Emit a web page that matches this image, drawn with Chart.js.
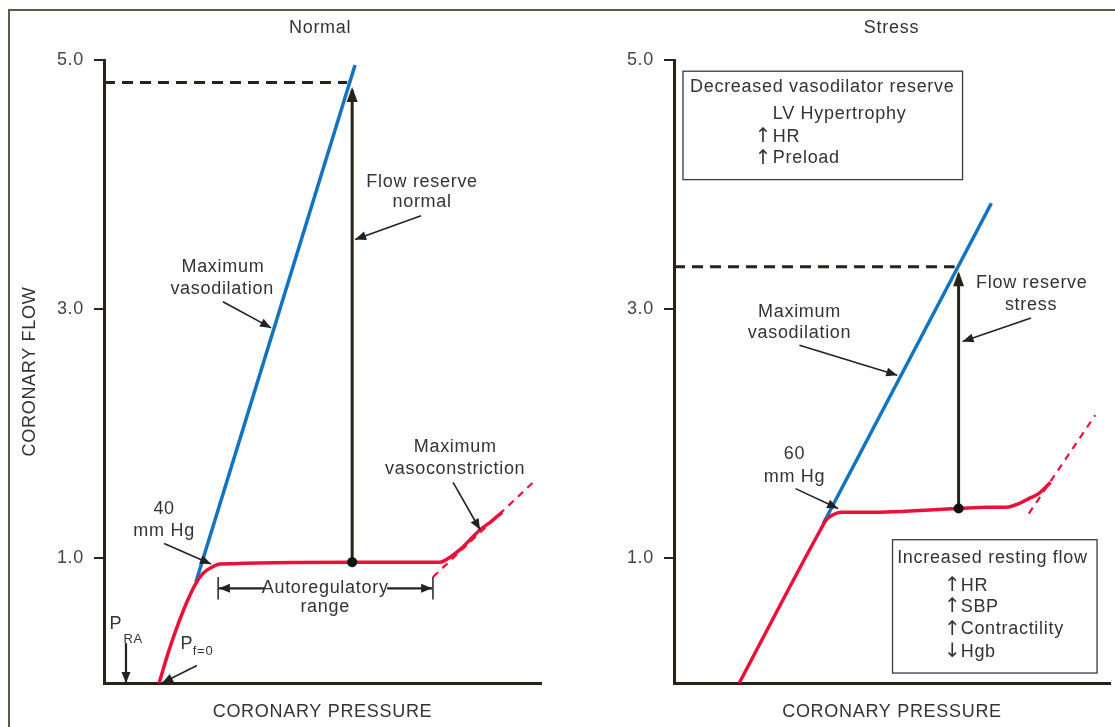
<!DOCTYPE html>
<html>
<head>
<meta charset="utf-8">
<script src="https://cdn.jsdelivr.net/npm/chart.js@4"></script>
<style>
  html, body { margin: 0; padding: 0; background: #fff; overflow: hidden; }
  #frame { position: absolute; left: 8px; top: 9px; width: 1130px; height: 740px; border: 2px solid #5d5a49; }
  canvas { position: absolute; top: 0; }
  #normal { left: 0; }
  #stress { left: 560px; }
</style>
</head>
<body>
<div id="frame"></div>
<canvas id="normal" width="560" height="727"></canvas>
<canvas id="stress" width="555" height="727"></canvas>
<script>
// x = coronary pressure (mm Hg), y = coronary flow
var yTicks = [1.0, 3.0, 5.0];

// Normal panel
var normalDilX = [34.7, 94.8];
var normalDilY = [0.81, 4.96];
var normalAutoX = [20.8, 24.2, 27.6, 31.3, 34.7, 37.4, 40.8, 43.8, 93.7, 126.9, 130.7, 134.4, 138.2, 142.0, 145.8, 150.3];
var normalAutoY = [0, 0.24, 0.45, 0.65, 0.80, 0.88, 0.93, 0.955, 0.97, 0.97, 1.01, 1.07, 1.15, 1.23, 1.29, 1.37];
var normalConstrX = [124.2, 162.0];
var normalConstrY = [0.85, 1.61];
var normalRest = { x: 93.7, y: 0.97 };
var normalPeak = { x: 91.8, y: 4.82 };

// Stress panel
var stressDilX = [56.5, 120.1];
var stressDilY = [1.28, 3.85];
var stressAutoX = [24.7, 55.7, 57.6, 60.2, 63.2, 73.3, 107.7, 118.2, 125.7, 130.6, 134.3, 138.0, 142.5];
var stressAutoY = [0, 1.24, 1.31, 1.35, 1.37, 1.37, 1.40, 1.41, 1.41, 1.44, 1.48, 1.52, 1.61];
var stressConstrX = [134.3, 159.4];
var stressConstrY = [1.36, 2.15];
var stressRest = { x: 107.7, y: 1.40 };
var stressPeak = { x: 106.2, y: 3.34 };

var AXIS = '#2a2118';
var TEXT = '#333';
var BLUE = '#1274c1';
var RED = '#eb1038';
var FONT = "'Liberation Sans', Arial, sans-serif";
var SYM = "'DejaVu Sans', sans-serif";

function pts(xs, ys) {
  return xs.map(function (x, i) { return { x: x, y: ys[i] }; });
}

function head(ctx, x0, y0, x1, y1, len, half) {
  var a = Math.atan2(y1 - y0, x1 - x0);
  ctx.beginPath();
  ctx.moveTo(x1, y1);
  ctx.lineTo(x1 - len * Math.cos(a) + half * Math.sin(a), y1 - len * Math.sin(a) - half * Math.cos(a));
  ctx.lineTo(x1 - len * Math.cos(a) - half * Math.sin(a), y1 - len * Math.sin(a) + half * Math.cos(a));
  ctx.closePath();
  ctx.fill();
}

// slightly looser text, like the printed figure
var spacingPlugin = {
  id: 'spacing',
  beforeDraw: function (chart) { chart.ctx.letterSpacing = '0.7px'; }
};

// labels, pointer arrows and boxes, placed in data units
var notesPlugin = {
  id: 'notes',
  afterDatasetsDraw: function (chart, args, opts) {
    var ctx = chart.ctx, sx = chart.scales.x, sy = chart.scales.y;
    var px = function (v) { return sx.getPixelForValue(v); };
    var py = function (v) { return sy.getPixelForValue(v); };
    ctx.save();

    chart.data.datasets.forEach(function (ds, i) {
      if (!ds.arrowHead) return;
      var d = chart.getDatasetMeta(i).data;
      var a = d[d.length - 2], b = d[d.length - 1];
      ctx.fillStyle = ds.borderColor;
      head(ctx, a.x, a.y, b.x, b.y - 3, 15, 5.5);
    });

    ctx.strokeStyle = '#3a3a3a';
    ctx.lineWidth = 1.3;
    (opts.boxes || []).forEach(function (b) {
      ctx.strokeRect(px(b[0]), py(b[1]), px(b[2]) - px(b[0]), py(b[3]) - py(b[1]));
    });

    ctx.strokeStyle = '#222';
    ctx.fillStyle = '#222';
    (opts.bars || []).forEach(function (b) {
      ctx.lineWidth = 1.5;
      ctx.beginPath();
      ctx.moveTo(px(b[0]), py(b[1]));
      ctx.lineTo(px(b[0]), py(b[2]));
      ctx.stroke();
    });
    (opts.pointers || []).forEach(function (p) {
      var x0 = px(p[0]), y0 = py(p[1]), x1 = px(p[2]), y1 = py(p[3]);
      ctx.lineWidth = p[4] || 1.6;
      ctx.beginPath();
      ctx.moveTo(x0, y0);
      ctx.lineTo(x1, y1);
      ctx.stroke();
      head(ctx, x0, y0, x1, y1, 11, 4.5);
    });

    ctx.fillStyle = TEXT;
    ctx.textBaseline = 'middle';
    (opts.texts || []).forEach(function (t) {
      ctx.font = (t.size || 18) + 'px ' + (t.font || FONT);
      ctx.textAlign = t.align || 'center';
      ctx.fillText(t.t, px(t.x), py(t.y));
    });
    ctx.restore();
  }
};

function makeChart(id, cfg) {
  var datasets = [
    { data: [cfg.rest], showLine: false, pointRadius: 5, pointBackgroundColor: '#111', pointBorderWidth: 0 },
    { data: [cfg.rest, { x: cfg.rest.x, y: cfg.peak.y - 0.06 }], borderColor: AXIS, borderWidth: 3, pointRadius: 0, arrowHead: true },
    { data: cfg.auto, borderColor: RED, borderWidth: 3.5, pointRadius: 0, cubicInterpolationMode: 'monotone' },
    { data: cfg.dil, borderColor: BLUE, borderWidth: 3.5, pointRadius: 0 },
    { data: cfg.constr, borderColor: RED, borderWidth: 2.2, borderDash: [7, 6], pointRadius: 0 },
    { data: [{ x: 0, y: cfg.peak.y }, cfg.peak], borderColor: AXIS, borderWidth: 3, borderDash: [11, 7], pointRadius: 0, clip: false }
  ];
  return new Chart(document.getElementById(id), {
    type: 'line',
    data: { datasets: datasets },
    plugins: [spacingPlugin, notesPlugin],
    options: {
      responsive: false,
      animation: false,
      layout: { padding: { top: 60, right: cfg.padRight, bottom: 0, left: 0 } },
      plugins: {
        legend: { display: false },
        tooltip: { enabled: false },
        notes: cfg.notes
      },
      scales: {
        x: {
          type: 'linear', min: 0, max: 165,
          afterFit: function (s) { s.height = 44; },
          ticks: { display: false },
          grid: { display: false },
          border: { display: true, color: AXIS, width: 3 },
          title: { display: true, text: 'CORONARY PRESSURE', color: TEXT, font: { family: FONT, size: 18 }, padding: { top: 0, bottom: 4 } }
        },
        y: {
          type: 'linear', min: 0, max: 5,
          afterBuildTicks: function (s) { s.ticks = yTicks.map(function (v) { return { value: v }; }); },
          afterFit: function (s) { s.width = cfg.yWidth; },
          ticks: { callback: function (v) { return v.toFixed(1); }, padding: 10, color: '#444', font: { family: FONT, size: 18 } },
          grid: { drawOnChartArea: false, drawTicks: true, tickLength: 10, color: AXIS, lineWidth: 2 },
          border: { display: true, color: AXIS, width: 3 },
          title: { display: cfg.yTitle, text: 'CORONARY FLOW', color: TEXT, font: { family: FONT, size: 18 }, padding: { top: 19, bottom: 0 } }
        }
      }
    }
  });
}

makeChart('normal', {
  auto: pts(normalAutoX, normalAutoY),
  dil: pts(normalDilX, normalDilY),
  constr: pts(normalConstrX, normalConstrY),
  rest: normalRest, peak: normalPeak,
  padRight: 19, yWidth: 104, yTitle: true,
  notes: {
    texts: [
      { t: 'Normal', x: 81.6, y: 5.26 },
      { t: 'Maximum', x: 44.9, y: 3.34 },
      { t: 'vasodilation', x: 44.6, y: 3.16 },
      { t: 'Flow reserve', x: 120.1, y: 4.02 },
      { t: 'normal', x: 120.1, y: 3.86 },
      { t: '40', x: 22.7, y: 1.40 },
      { t: 'mm Hg', x: 22.7, y: 1.22 },
      { t: 'Maximum', x: 132.6, y: 1.89 },
      { t: 'vasoconstriction', x: 132.6, y: 1.72 },
      { t: 'Autoregulatory', x: 83.5, y: 0.76 },
      { t: 'range', x: 83.5, y: 0.61 },
      { t: 'P', x: 4.5, y: 0.47 },
      { t: 'RA', x: 11.0, y: 0.35, size: 13 },
      { t: 'P', x: 31.3, y: 0.31 },
      { t: 'f=0', x: 37.4, y: 0.25, size: 13 }
    ],
    pointers: [
      [44.9, 3.06, 63.1, 2.85],
      [119.7, 3.75, 94.8, 3.56],
      [22.7, 1.12, 40.4, 0.955],
      [131.8, 1.61, 142.0, 1.23],
      [60.4, 0.76, 43.4, 0.76, 2.2],
      [106.9, 0.76, 123.9, 0.76, 2.2],
      [8.3, 0.32, 8.3, 0.0, 2.2],
      [35.1, 0.14, 21.9, 0.0]
    ],
    bars: [[43.1, 0.67, 0.85], [124.2, 0.67, 0.85]]
  }
});

makeChart('stress', {
  auto: pts(stressAutoX, stressAutoY),
  dil: pts(stressDilX, stressDilY),
  constr: pts(stressConstrX, stressConstrY),
  rest: stressRest, peak: stressPeak,
  padRight: 0, yWidth: 114, yTitle: false,
  notes: {
    texts: [
      { t: 'Stress', x: 82.3, y: 5.26 },
      { t: 'Maximum', x: 47.5, y: 2.98 },
      { t: 'vasodilation', x: 47.5, y: 2.81 },
      { t: 'Flow reserve', x: 135.4, y: 3.21 },
      { t: 'stress', x: 135.1, y: 3.03 },
      { t: '60', x: 45.6, y: 1.84 },
      { t: 'mm Hg', x: 45.6, y: 1.65 },
      { t: 'Decreased vasodilator reserve', x: 56.1, y: 4.78 },
      { t: 'LV Hypertrophy', x: 37.4, y: 4.57, align: 'left' },
      { t: '\u2191', x: 33.9, y: 4.38, font: SYM, size: 20 },
      { t: 'HR', x: 37.4, y: 4.38, align: 'left' },
      { t: '\u2191', x: 33.9, y: 4.21, font: SYM, size: 20 },
      { t: 'Preload', x: 37.4, y: 4.21, align: 'left' },
      { t: 'Increased resting flow', x: 120.5, y: 1.00 },
      { t: '\u2191', x: 105.5, y: 0.78, font: SYM, size: 20 },
      { t: 'HR', x: 108.5, y: 0.78, align: 'left' },
      { t: '\u2191', x: 105.5, y: 0.61, font: SYM, size: 20 },
      { t: 'SBP', x: 108.5, y: 0.61, align: 'left' },
      { t: '\u2191', x: 105.5, y: 0.43, font: SYM, size: 20 },
      { t: 'Contractility', x: 108.5, y: 0.43, align: 'left' },
      { t: '\u2193', x: 105.5, y: 0.25, font: SYM, size: 20 },
      { t: 'Hgb', x: 108.5, y: 0.25, align: 'left' }
    ],
    pointers: [
      [47.5, 2.71, 84.5, 2.47],
      [135.1, 2.93, 109.2, 2.74],
      [46.0, 1.56, 62.1, 1.40]
    ],
    boxes: [[3.4, 4.91, 109.2, 4.04], [82.7, 1.15, 160.1, 0.08]]
  }
});
</script>
</body>
</html>
